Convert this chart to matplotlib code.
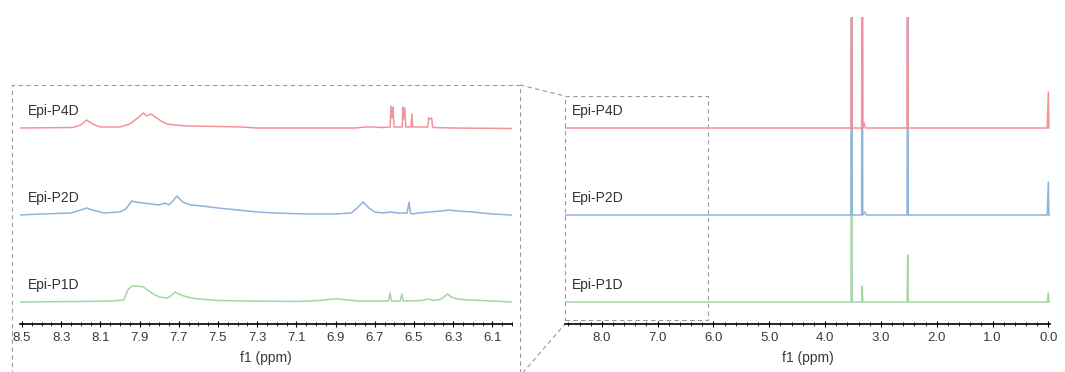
import matplotlib
matplotlib.use("Agg")
import matplotlib.pyplot as plt
from matplotlib.ticker import FixedLocator, MultipleLocator

plt.rcParams['font.family'] = ['Liberation Sans', 'DejaVu Sans']

names = ['Epi-P4D', 'Epi-P2D', 'Epi-P1D']
colors = ['#f2939b', '#8fb3de', '#a3d6a3']
offsets = [174, 87, 0]

# zoomed aromatic region (ppm, intensity)
p4d_zoom_ppm = [8.51, 8.24, 8.20, 8.17, 8.14, 8.10, 8.00, 7.95, 7.91, 7.88, 7.865, 7.84, 7.82, 7.79, 7.76,
                7.72, 7.65, 7.50, 7.38, 7.30, 6.80, 6.75, 6.72, 6.66, 6.622, 6.617, 6.612, 6.607, 6.602, 6.56,
                6.557, 6.552, 6.547, 6.542, 6.515, 6.511, 6.507, 6.43, 6.425, 6.42, 6.41, 6.405, 6.40, 6.30, 6.00]
p4d_zoom_int = [0, 0.5, 3, 8, 4, 1, 1, 4, 10, 15, 12, 14, 11, 7, 4,
                3, 2, 1.5, 1, 0, 0, 1, 1, 0.5, 1, 22, 10, 21, 1, 1,
                21, 9, 20, 1, 1, 14, 1, 1, 10, 9, 10, 1, 0.5, 0, -0.5]

p2d_zoom_ppm = [8.51, 8.40, 8.25, 8.20, 8.17, 8.14, 8.08, 8.00, 7.97, 7.94, 7.92, 7.88, 7.84, 7.80, 7.77, 7.75,
                7.73, 7.71, 7.68, 7.64, 7.58, 7.50, 7.40, 7.30, 7.20, 7.05, 6.90, 6.82, 6.79, 6.76, 6.73, 6.70,
                6.66, 6.62, 6.58, 6.535, 6.525, 6.518, 6.51, 6.48, 6.42, 6.36, 6.32, 6.28, 6.20, 6.10, 6.00]
p2d_zoom_int = [0, 1, 2, 5, 7, 5, 2, 3, 6, 14, 13, 12, 11, 10, 12, 10,
                14, 19, 13, 10, 9, 7, 5, 3, 2, 1, 1, 2, 7, 13, 7, 3,
                2, 3, 2, 2, 13, 2, 1, 2, 3, 4, 5, 4, 3, 1, 0]

p1d_zoom_ppm = [8.51, 8.20, 8.05, 7.98, 7.96, 7.94, 7.91, 7.88, 7.86, 7.83, 7.80, 7.76, 7.74, 7.72, 7.70,
                7.66, 7.60, 7.50, 7.35, 7.10, 6.98, 6.92, 6.88, 6.84, 6.78, 6.70, 6.63, 6.622, 6.615, 6.61,
                6.57, 6.562, 6.555, 6.54, 6.46, 6.43, 6.40, 6.36, 6.33, 6.31, 6.28, 6.22, 6.10, 6.00]
p1d_zoom_int = [0, 0.5, 1, 2, 12, 16, 16, 15, 12, 8, 5, 4, 6, 10, 8,
                5, 3, 1.5, 1, 0.5, 1.5, 3, 3, 2, 1, 1, 1, 9, 1, 1,
                1, 8, 1, 1, 1.5, 3, 1.5, 3, 8, 5, 3, 2, 1, 0]

# full spectra
p4d_full_ppm = [8.66, 3.535, 3.525, 3.515, 3.345, 3.335, 3.325, 3.30, 3.28, 2.53, 2.52, 2.51, 0.02, 0.0, -0.01, -0.03]
p4d_full_int = [0, 0, 400, 0, 0, 400, 0, 5, 0, 0, 400, 0, 0, 36, 0, 0]
p2d_full_ppm = [8.66, 3.535, 3.525, 3.515, 3.345, 3.335, 3.325, 3.29, 3.26, 2.53, 2.52, 2.51, 0.02, 0.0, -0.01, -0.03]
p2d_full_int = [0, 0, 400, 0, 0, 400, 0, 3, 0, 0, 400, 0, 0, 33, 0, 0]
p1d_full_ppm = [8.66, 3.535, 3.525, 3.515, 3.345, 3.335, 3.325, 3.30, 2.53, 2.52, 2.51, 0.02, 0.0, -0.01, -0.03]
p1d_full_int = [0, 0, 400, 0, 0, 16, 0, 0, 0, 47, 0, 0, 9, 0, 0]

zoom_ticks = [8.5, 8.3, 8.1, 7.9, 7.7, 7.5, 7.3, 7.1, 6.9, 6.7, 6.5, 6.3, 6.1]
full_ticks = [8.0, 7.0, 6.0, 5.0, 4.0, 3.0, 2.0, 1.0, 0.0]

zoom_data = [(p4d_zoom_ppm, p4d_zoom_int), (p2d_zoom_ppm, p2d_zoom_int), (p1d_zoom_ppm, p1d_zoom_int)]
full_data = [(p4d_full_ppm, p4d_full_int), (p2d_full_ppm, p2d_full_int), (p1d_full_ppm, p1d_full_int)]

W, H = 1065, 372
fig = plt.figure(figsize=(W / 100, H / 100), dpi=100)

# dashed zoom frames, in pixel coordinates
ov = fig.add_axes([0, 0, 1, 1], zorder=0)
ov.set_xlim(0, W)
ov.set_ylim(H, 0)
ov.axis('off')
dash = dict(color='#9a9a9a', lw=0.8, ls=(0, (4, 3)))
ov.plot([12, 520, 520, 12, 12], [385, 385, 85, 85, 385], **dash)
ov.plot([565, 708, 708, 565, 565], [320, 320, 96, 96, 320], **dash)
ov.plot([520, 565], [85, 96], **dash)
ov.plot([520, 565], [376, 324], **dash)


def style(ax, ticks, fmt, minor):
    for s in ['top', 'left', 'right']:
        ax.spines[s].set_visible(False)
    ax.spines['bottom'].set_linewidth(1.2)
    ax.set_yticks([])
    ax.xaxis.set_major_locator(FixedLocator(ticks))
    ax.xaxis.set_minor_locator(MultipleLocator(minor))
    ax.set_xticklabels([fmt % t for t in ticks])
    ax.tick_params(axis='x', which='major', direction='inout', length=4, width=0.8,
                   labelsize=9.5, labelcolor='#3a3a3a', pad=4)
    ax.tick_params(axis='x', which='minor', direction='inout', length=2.5, width=0.6)
    ax.set_xlabel('f1 (ppm)', fontsize=10, color='#3a3a3a', labelpad=5)
    ax.patch.set_alpha(0)


ax1 = fig.add_axes([20 / W, 48 / H, 492 / W, 239 / H], zorder=2)
for (x, y), off, c, n in reversed(list(zip(zoom_data, offsets, colors, names))):
    ax1.plot(x, [v + off for v in y], color=c, lw=1.1)
    ax1.text(8.47, off + 17, n, fontsize=10, color='#333333', va='center', ha='left')
ax1.set_xlim(8.51, 6.0)
ax1.set_ylim(-22, 217)
style(ax1, zoom_ticks, '%.1f', 0.05)

ax2 = fig.add_axes([565 / W, 48 / H, 485 / W, 307 / H], zorder=2)
for (x, y), off, c, n in reversed(list(zip(full_data, offsets, colors, names))):
    ax2.plot(x, [v + off for v in y], color=c, lw=1.1)
    ax2.text(8.53, off + 17, n, fontsize=10, color='#333333', va='center', ha='left')
ax2.set_xlim(8.66, -0.03)
ax2.set_ylim(-22, 285)
style(ax2, full_ticks, '%.1f', 0.2)

fig.savefig('out.png', dpi=100)
